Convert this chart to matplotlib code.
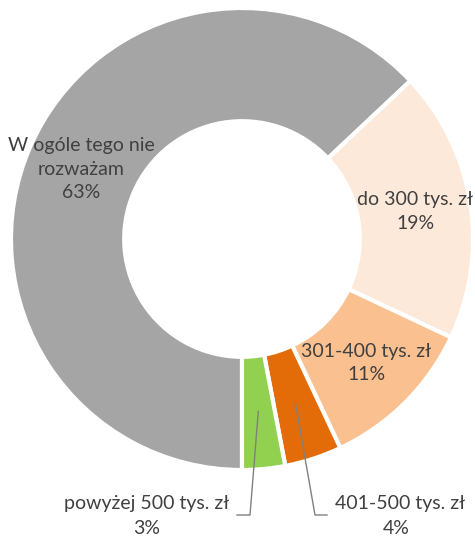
import numpy as np
import matplotlib
matplotlib.use('Agg')
import matplotlib.pyplot as plt

plt.rcParams['font.family'] = ['Lato', 'DejaVu Sans']

# data
labels = ['W ogóle tego nie\nrozważam', 'do 300 tys. zł', '301-400 tys. zł', '401-500 tys. zł', 'powyżej 500 tys. zł']
shares = [63, 19, 11, 4, 3]
colors = ['#A5A5A5', '#FDE9D9', '#FAC090', '#E36C09', '#92D050']

W, H = 475, 539
fig = plt.figure(figsize=(W / 100, H / 100), dpi=100)
ax = fig.add_axes([0, 0, 1, 1])

cx, cy, R = 242, H - 239, 231
txt_color = '#404040'

wedges, _ = ax.pie(shares, colors=colors, startangle=270, counterclock=False,
                   center=(cx, cy), radius=R, frame=True,
                   wedgeprops=dict(width=R * 0.49, edgecolor='white', linewidth=3))
ax.set_xlim(0, W)
ax.set_ylim(0, H)
ax.axis('off')

def mid_point(w, frac):
	ang = np.deg2rad((w.theta1 + w.theta2) / 2)
	return cx + frac * R * np.cos(ang), cy + frac * R * np.sin(ang)

# inside labels
for i in range(3):
	x, y = mid_point(wedges[i], 0.76)
	ax.text(x, y, f'{labels[i]}\n{shares[i]}%', ha='center', va='center',
	        fontsize=14, color=txt_color, linespacing=1.45)

# outside labels with leader lines: (wedge, line end x, bend x, text x, ha, pct x)
lab_y = H - 515
outside = [(3, 327, 315, 335, 'left', 396), (4, 237, 250, 229, 'right', 147)]
for i, end_x, bend_x, txt_x, ha, pct_x in outside:
	x0, y0 = mid_point(wedges[i], 0.75)
	ax.plot([x0, bend_x, end_x], [y0, lab_y, lab_y], color='#808080', lw=1)
	ax.text(txt_x, H - 503, labels[i], ha=ha, va='center', fontsize=14, color=txt_color)
	ax.text(pct_x, H - 528, f'{shares[i]}%', ha='center', va='center', fontsize=14, color=txt_color)

fig.savefig('out.png', dpi=100)
